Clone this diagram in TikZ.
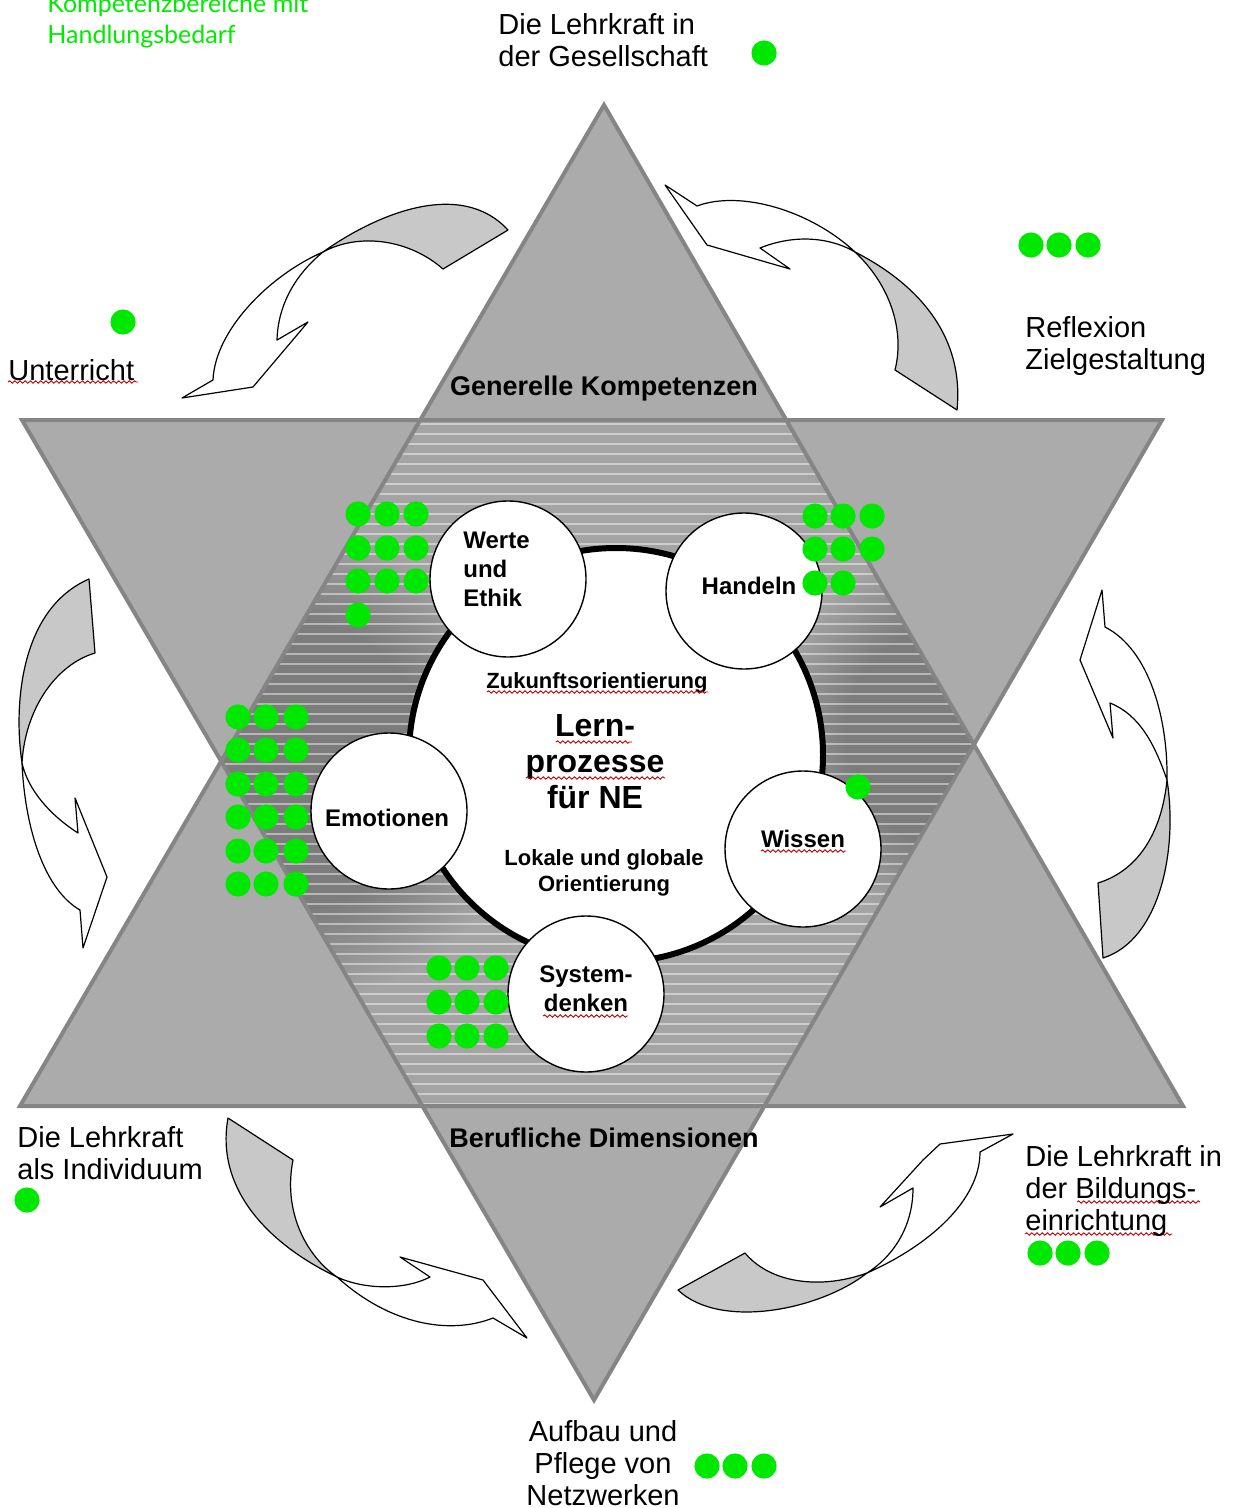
\documentclass[tikz,border=0pt]{standalone}
\usepackage{fontspec}
\setmainfont{Liberation Sans}
\newfontfamily\greenfont{Lato}
\usetikzlibrary{decorations.pathmorphing}

\definecolor{trigray}{HTML}{ABABAB}
\definecolor{edgegray}{HTML}{858585}
\definecolor{hexdark}{HTML}{7C7C7C}
\definecolor{hexlight}{HTML}{A4A4A4}
\definecolor{dotgreen}{RGB}{0,232,0}
\definecolor{arrgray}{HTML}{C8C8C8}
\definecolor{txtgreen}{RGB}{0,235,0}

\pgfdeclareradialshading{darkblob}{\pgfpoint{0bp}{0bp}}{color(0bp)=(hexdark); color(15bp)=(hexdark); color(25bp)=(hexlight); color(50bp)=(hexlight)}

\tikzset{
  outer/.style={font=\fontsize{14.5}{16}\selectfont, align=left, inner sep=0pt, anchor=west},
  dimlabel/.style={font=\bfseries\fontsize{13.5}{16}\selectfont, inner sep=0pt},
  circlabel/.style={font=\bfseries\fontsize{12}{14.5}\selectfont, inner sep=0pt},
  ringlabel/.style={font=\bfseries\fontsize{11}{13}\selectfont, inner sep=0pt, align=center},
  smallcirc/.style={circle, draw=black, line width=0.7pt, fill=white, minimum size=78pt, inner sep=0pt},
  ringcirc/.style={circle, draw=black, line width=3pt, fill=white, minimum size=207pt, inner sep=0pt},
  arrowtail/.style={draw=black, line width=0.6pt, fill=arrgray, line join=round},
  arrowhead/.style={draw=black, line width=0.6pt, fill=white, line join=round},
  triedge/.style={draw=edgegray, line width=2pt, line join=miter},
  spell/.style={draw=red!75!black, line width=0.45pt, decorate, decoration={snake, amplitude=0.6pt, segment length=2.6pt}},
}

\begin{document}
\begin{tikzpicture}[x=0.5pt, y=-0.5pt]
\useasboundingbox (0,0) rectangle (1240,1508);

% star corners
\coordinate (UA) at (604,105);
\coordinate (UL) at (20,1106);
\coordinate (UR) at (1183,1106);
\coordinate (DL) at (22,420);
\coordinate (DR) at (1162,420);
\coordinate (DA) at (594,1400);
% hexagon
\coordinate (H1) at (intersection of UA--UL and DL--DR);
\coordinate (H2) at (intersection of UA--UR and DL--DR);
\coordinate (H3) at (intersection of UA--UR and DR--DA);
\coordinate (H4) at (intersection of DR--DA and UL--UR);
\coordinate (H5) at (intersection of DL--DA and UL--UR);
\coordinate (H6) at (intersection of UA--UL and DL--DA);

\fill[trigray] (UA) -- (UL) -- (UR) -- cycle;
\fill[trigray] (DL) -- (DR) -- (DA) -- cycle;
\begin{scope}
  \clip (H1) -- (H2) -- (H3) -- (H4) -- (H5) -- (H6) -- cycle;
  \fill[hexlight] (200,400) rectangle (1000,1110);
  \shade[shading=darkblob] (290,765) circle (120pt);
  \shade[shading=darkblob] (960,735) circle (95pt);
  \foreach \yy in {424,434,...,1104}
    \draw[white, opacity=0.45, line width=0.6pt] (200,\yy) -- (1000,\yy);
\end{scope}
\draw[triedge] (UA) -- (UL) -- (UR) -- cycle;
\draw[triedge] (DL) -- (DR) -- (DA) -- cycle;

% ring and circles
\node[ringcirc] (ring) at (616,755) {};
\node[smallcirc] (werte) at (508,579) {};
\node[smallcirc] (handeln) at (744,591) {};
\node[smallcirc] (emo) at (389,811) {};
\node[smallcirc] (wissen) at (803,849) {};
\node[smallcirc] (system) at (586,994) {};

% texts inside
\node[circlabel, align=left, anchor=west] (wertetxt) at (463,569) {Werte\\und\\Ethik};
\node[circlabel] (handelntxt) at (749,586) {Handeln};
\node[circlabel] (emotxt) at (387,818) {Emotionen};
\node[circlabel] (wissentxt) at (803,839) {Wissen};
\node[circlabel, align=center] (systemtxt) at (586,989) {System-\\denken};
\node[ringlabel] (zukunft) at (597,683) {Zukunftsorientierung};
\node[font=\bfseries\fontsize{16}{18}\selectfont, align=center, inner sep=0pt] (lern) at (595,762) {Lern-\\prozesse\\für NE};
\node[ringlabel] (lokal) at (604,873) {Lokale und globale\\Orientierung};

\node[dimlabel] (gen) at (604,389) {Generelle Kompetenzen};
\node[dimlabel] (beruf) at (604,1138) {Berufliche Dimensionen};

% spell check underlines
\draw[spell] (487,692) -- (708,692);
\draw[spell] (556,742) -- (632,742);
\draw[spell] (526,778) -- (665,778);
\draw[spell] (761,851) -- (846,851);
\draw[spell] (543,1016) -- (628,1016);
\draw[spell] (8,382) -- (138,382);
\draw[spell] (1077,1202) -- (1200,1202);
\draw[spell] (1025,1234) -- (1172,1234);

% green dots
\foreach \x in {358,387,416} \foreach \y in {514,548,581} \fill[dotgreen] (\x,\y) circle (6.3pt);
\fill[dotgreen] (358,615) circle (6.3pt);
\foreach \x in {815,843,872} \foreach \y in {516,549} \fill[dotgreen] (\x,\y) circle (6.3pt);
\foreach \x in {815,843} \fill[dotgreen] (\x,583) circle (6.3pt);
\foreach \x in {238,266,296} \foreach \y in {717,750,784,817,851,884} \fill[dotgreen] (\x,\y) circle (6.3pt);
\fill[dotgreen] (858,787) circle (6.3pt);
\foreach \x in {439,467,496} \foreach \y in {968,1002,1036} \fill[dotgreen] (\x,\y) circle (6.3pt);
\fill[dotgreen] (764,53) circle (6.3pt);
\foreach \x in {1031,1059,1088} \fill[dotgreen] (\x,245) circle (6.3pt);
\fill[dotgreen] (123,322) circle (6.3pt);
\fill[dotgreen] (27,1200) circle (6.3pt);
\foreach \x in {1040,1068,1097} \fill[dotgreen] (\x,1253) circle (6.3pt);
\foreach \x in {707,735,764} \fill[dotgreen] (\x,1466) circle (6.3pt);

% curved arrows
% top left
\draw[arrowtail] (323,252) .. controls (375,215) and (460,178) .. (508,230) -- (443,269) .. controls (410,240) and (360,232) .. (323,252) -- cycle;
\draw[arrowhead] (323,252) .. controls (270,275) and (215,330) .. (213,380) -- (182,398) -- (253,387) -- (308,322) -- (277,340) .. controls (278,305) and (295,275) .. (323,252) -- cycle;
% top right
\draw[arrowhead] (665,185) -- (697,206) .. controls (740,190) and (810,210) .. (855,252) .. controls (835,240) and (800,232) .. (760,248) -- (790,269) -- (707,245) -- cycle;
\draw[arrowtail] (855,252) .. controls (910,280) and (965,330) .. (957,410) -- (895,370) .. controls (905,330) and (890,285) .. (855,252) -- cycle;
% left
\draw[arrowtail] (89,579) -- (95,653) .. controls (55,665) and (25,710) .. (22,763) .. controls (14,710) and (18,610) .. (89,579) -- cycle;
\draw[arrowhead] (22,763) .. controls (25,830) and (45,890) .. (80,910) -- (83,948) -- (107,877) -- (75,798) -- (78,833) .. controls (50,815) and (28,790) .. (22,763) -- cycle;
% right
\draw[arrowhead] (1102,590) -- (1105,627) .. controls (1150,650) and (1168,720) .. (1167,780) .. controls (1155,745) and (1140,715) .. (1110,703) -- (1113,738) -- (1080,660) -- cycle;
\draw[arrowtail] (1167,780) .. controls (1178,850) and (1160,940) .. (1103,958) -- (1098,883) .. controls (1140,870) and (1162,830) .. (1167,780) -- cycle;
% bottom left
\draw[arrowtail] (228,1118) -- (293,1160) .. controls (283,1210) and (305,1255) .. (337,1277) .. controls (270,1245) and (215,1190) .. (228,1118) -- cycle;
\draw[arrowhead] (337,1277) .. controls (365,1290) and (405,1290) .. (430,1277) -- (400,1257) -- (483,1280) -- (527,1338) -- (493,1318) .. controls (450,1335) and (390,1325) .. (337,1277) -- cycle;
% bottom right
\draw[arrowtail] (678,1290) -- (745,1253) .. controls (770,1283) and (820,1290) .. (867,1273) .. controls (820,1310) and (720,1330) .. (678,1290) -- cycle;
\draw[arrowhead] (867,1273) .. controls (930,1245) and (980,1200) .. (980,1152) -- (1013,1134) -- (940,1144) -- (923,1160) -- (880,1207) -- (913,1188) .. controls (913,1225) and (895,1255) .. (867,1273) -- cycle;

% outer labels
\node[outer] (gesell) at (498,40) {Die Lehrkraft in\\der Gesellschaft};
\node[outer] (reflex) at (1025,346) {Reflexion\\Zielgestaltung};
\node[outer] (unterr) at (8,370) {Unterricht};
\node[outer] (indiv) at (17,1153) {Die Lehrkraft\\als Individuum};
\node[outer] (bildung) at (1025,1191) {Die Lehrkraft in\\der Bildungs-\\einrichtung};
\node[outer, align=center, anchor=center] (netz) at (603,1463) {Aufbau und\\Pflege von\\Netzwerken};

\node[font=\greenfont\fontsize{12.5}{15.5}\selectfont, text=txtgreen, align=left, anchor=west, inner sep=0pt] (legend) at (47,21) {Kompetenzbereiche mit\\Handlungsbedarf};
\end{tikzpicture}
\end{document}
